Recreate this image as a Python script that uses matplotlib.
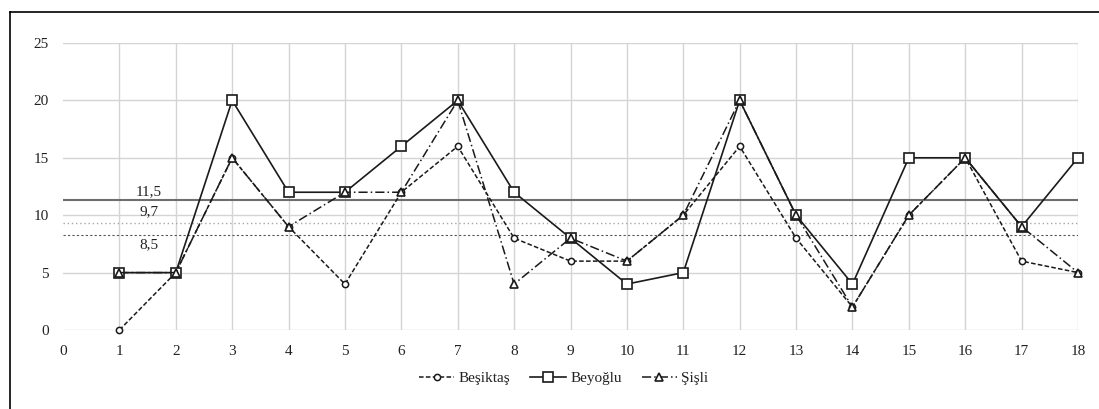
import matplotlib
matplotlib.use("Agg")
import matplotlib.pyplot as plt
from matplotlib.lines import Line2D

plt.rcParams['font.family'] = ['Liberation Serif', 'DejaVu Serif']

x = list(range(1, 19))
besiktas = [0, 5, 15, 9, 4, 12, 16, 8, 6, 6, 10, 16, 8, 2, 10, 15, 6, 5]
beyoglu = [5, 5, 20, 12, 12, 16, 20, 12, 8, 4, 5, 20, 10, 4, 15, 15, 9, 15]
sisli = [5, 5, 15, 9, 12, 12, 20, 4, 8, 6, 10, 20, 10, 2, 10, 15, 9, 5]
series_names = ["Beşiktaş", "Beyoğlu", "Şişli"]

# average reference lines as drawn in the picture, with their printed labels
avg_positions = [11.3, 9.35, 8.25]
avg_labels = ["11,5", "9,7", "8,5"]
avg_label_y = [12.05, 10.3, 7.4]

xticks = list(range(0, 19))
yticks = [0, 5, 10, 15, 20, 25]

FS = 11

fig = plt.figure(figsize=(10.99, 4.09), dpi=100)
ax = fig.add_axes([63/1099, 1-330/409, (1078-63)/1099, (330-43)/409])

ax.set_xlim(0, 18)
ax.set_ylim(0, 25)
ax.set_xticks(xticks)
ax.set_yticks(yticks)
ax.tick_params(length=0, labelsize=FS, colors='#222222')
ax.tick_params(axis='x', pad=11)
ax.tick_params(axis='y', pad=10)
for s in ax.spines.values():
    s.set_visible(False)

# gridlines
for yy in yticks:
    ax.axhline(yy, color='#d4d4d4', lw=1.0, zorder=0)
for xx in xticks[1:]:
    ax.axvline(xx, color='#d4d4d4', lw=1.0, zorder=0)

# average lines
ax.axhline(avg_positions[0], color='#6e6e6e', lw=1.5, ls='-', zorder=1)
ax.axhline(avg_positions[1], color='#a8a8a8', lw=1.0, ls=(0, (1, 2)), zorder=1)
ax.axhline(avg_positions[2], color='#555555', lw=0.8, ls=(0, (2, 2)), zorder=1)
for lab, ly in zip(avg_labels, avg_label_y):
    ax.text(1.52, ly, lab, ha='center', va='center', fontsize=FS, color='#222222')

l1, = ax.plot(x, besiktas, ls=(0, (3, 1.5)), color='#1a1a1a', lw=1.1,
              marker='o', ms=4.5, mfc='white', mec='#1a1a1a', mew=1.1,
              clip_on=False, zorder=3, label=series_names[0])
l2, = ax.plot(x, beyoglu, ls='-', color='#1a1a1a', lw=1.2,
              marker='s', ms=7, mfc='white', mec='#1a1a1a', mew=1.2,
              clip_on=False, zorder=4, label=series_names[1])
l3, = ax.plot(x, sisli, ls=(0, (6, 2, 1, 2)), color='#1a1a1a', lw=1.1,
              marker='^', ms=6, mfc='white', mec='#1a1a1a', mew=1.2,
              clip_on=False, zorder=5, label=series_names[2])

leg = fig.legend(handles=[l1, l2, l3], loc='center', bbox_to_anchor=(0.513, 1-378/409),
                 ncol=3, frameon=False, fontsize=FS, handlelength=2.3,
                 columnspacing=1.3, handletextpad=0.3)
for t in leg.get_texts():
    t.set_color('#222222')

# outer frame (left and top edges visible)
fig.add_artist(Line2D([10/1099, 10/1099], [0, 1-11.5/409], transform=fig.transFigure,
                      color='black', lw=1.2))
fig.add_artist(Line2D([10/1099, 1], [1-11.5/409, 1-11.5/409], transform=fig.transFigure,
                      color='black', lw=1.2))

fig.savefig("out.png", dpi=100)
